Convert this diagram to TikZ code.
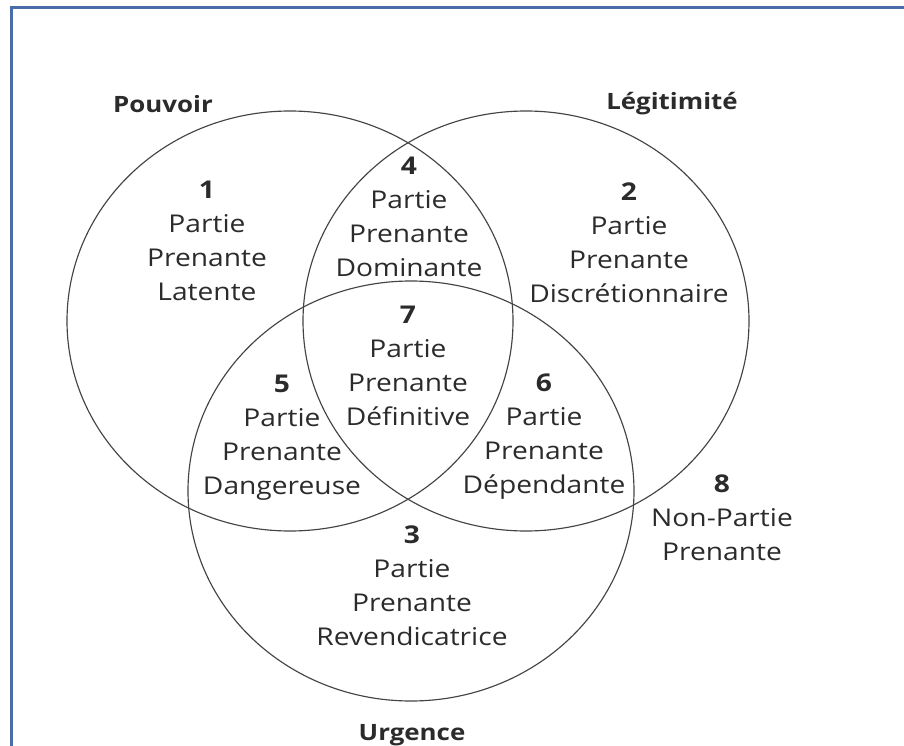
\documentclass[tikz,border=0pt]{standalone}
\usepackage{fontspec}
\setmainfont{Open Sans}[FakeStretch=1.15]
\usetikzlibrary{shapes.geometric}

\definecolor{framecol}{HTML}{4A6DAA}
\definecolor{inkcol}{HTML}{2B2B2B}
\definecolor{linecol}{HTML}{444444}

\tikzset{
  setbox/.style={ellipse, draw=linecol, line width=1.15pt, inner sep=0pt,
    minimum width=446pt, minimum height=420pt},
  zonetext/.style={align=center, inner sep=0pt, text=inkcol,
    font=\fontsize{24.5}{34}\selectfont},
  settitle/.style={inner sep=0pt, text=inkcol,
    font=\fontsize{22.5}{34}\selectfont\bfseries},
  frameline/.style={draw=framecol, line width=2.4pt}
}

\begin{document}
\begin{tikzpicture}[x=1pt, y=-1pt]
  \useasboundingbox (0,0) rectangle (904,746);

  % page frame
  \coordinate (fbl) at (11.5,746);
  \coordinate (ftl) at (11.5,7.5);
  \coordinate (ftr) at (904,7.5);
  \draw[frameline] (fbl) -- (ftl) -- (ftr);

  % the three attribute sets
  \node[setbox] (pouvoir)    at (290,321) {};
  \node[setbox] (legitimite) at (526,321) {};
  \node[setbox] (urgence)    at (411,491) {};

  % set titles
  \node[settitle] (tP) at (163,104) {Pouvoir};
  \node[settitle] (tL) at (672,104) {Légitimité};
  \node[settitle] (tU) at (412,735) {Urgence};

  % zones
  \node[zonetext] (z1) at (207,241) {\textbf{1}\\Partie\\Prenante\\Latente};
  \node[zonetext] (z2) at (629,243) {\textbf{2}\\Partie\\Prenante\\Discrétionnaire};
  \node[zonetext] (z3) at (412,586) {\textbf{3}\\Partie\\Prenante\\Revendicatrice};
  \node[zonetext] (z4) at (409,217) {\textbf{4}\\Partie\\Prenante\\Dominante};
  \node[zonetext] (z5) at (282,438) {\textbf{5}\\Partie\\Prenante\\Dangereuse};
  \node[zonetext] (z6) at (544,437) {\textbf{6}\\Partie\\Prenante\\Dépendante};
  \node[zonetext] (z7) at (408,366) {\textbf{7}\\Partie\\Prenante\\Définitive};
  \node[zonetext] (z8) at (722,518) {\textbf{8}\\Non-Partie\\Prenante};
\end{tikzpicture}
\end{document}
